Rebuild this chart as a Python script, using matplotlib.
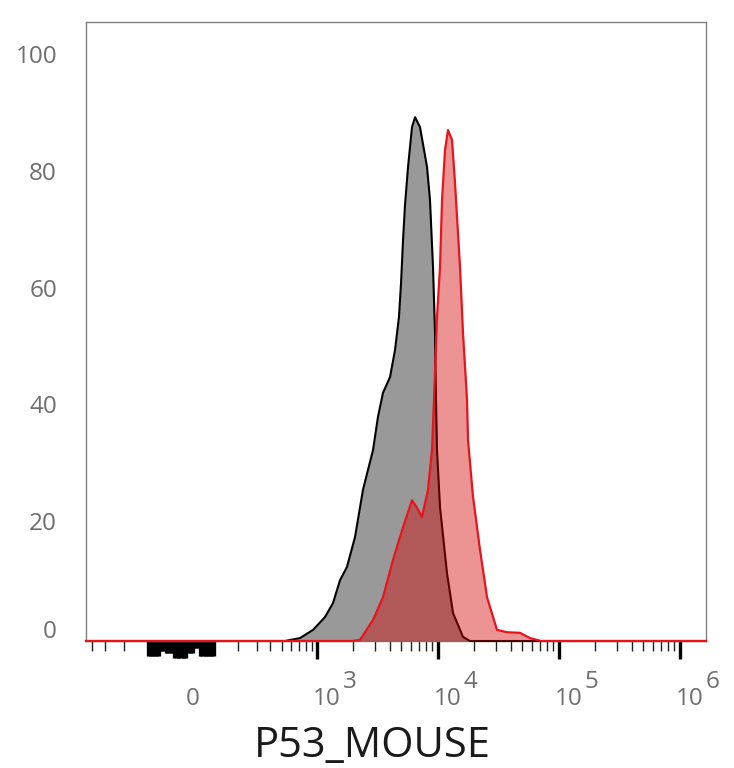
import numpy as np
import matplotlib
matplotlib.use("Agg")
import matplotlib.pyplot as plt
from matplotlib.transforms import blended_transform_factory, offset_copy

# intensity values (biexponential axis) and % of max for each histogram
black_x = [536, 719, 925, 1165, 1358, 1552, 1774, 2067, 2407, 2914, 3204, 3524,
           4029, 4429, 4778, 4968, 5163, 5360, 5677, 6123, 6486, 7127, 8146,
           8622, 9131, 9485, 9667, 9853, 10434, 11921, 13364, 16157, 18458]
black_y = [0, 0.5, 1.9, 4.1, 6.5, 10.4, 12.7, 17.8, 25.9, 32.7, 38.4, 42.5,
           45.2, 49.8, 55.5, 61.3, 68.7, 74.7, 81.2, 88.0, 89.7, 88.0, 81.2,
           75.5, 64.0, 52.7, 41.3, 32.7, 22.9, 11.6, 4.8, 0.7, 0]

red_x = [1953, 2274, 2914, 3524, 4265, 5163, 6123, 6734, 7406, 8299, 8958,
         9306, 9853, 10434, 10840, 11477, 12148, 13112, 13877, 15265, 16157,
         17440, 17772, 19546, 22336, 25519, 30860, 37342, 47813, 57855, 71350]
red_y = [0, 0.2, 3.6, 7.5, 13.9, 19.5, 24.1, 22.8, 21.2, 25.9, 32.7,
         41.3, 55.5, 64.0, 75.5, 84.1, 87.5, 85.8, 78.4, 64.0, 52.7,
         41.3, 34.4, 24.7, 15.6, 7.5, 1.9, 1.5, 1.4, 0.5, 0]

y_ticks = [0, 20, 40, 60, 80, 100]
decades = [3, 4, 5, 6]
xlabel = "P53_MOUSE"

# axis range
x_min, x_max = -448, 1.6465e6
y_min, y_max = 0, 106
W = 151  # linear width of the asinh display

plt.rcParams['font.family'] = ['Open Sans', 'DejaVu Sans']

fig = plt.figure(figsize=(7.34, 7.68), dpi=100)
ax = fig.add_axes([86 / 734, 127 / 768, 620 / 734, 619 / 768])

ax.set_xscale('function', functions=(lambda v: np.arcsinh(np.asarray(v) / W),
                                      lambda u: W * np.sinh(np.asarray(u))))
ax.set_xlim(x_min, x_max)
ax.set_ylim(y_min, y_max)


def padded(xs, ys):
    return np.concatenate([[x_min], xs, [x_max]]), np.concatenate([[0], ys, [0]])


bx, by = padded(black_x, black_y)
rx, ry = padded(red_x, red_y)

ax.fill_between(bx, by, 0, color='#999999', linewidth=0, zorder=2)
ax.plot(bx, by, color='black', linewidth=1.5, zorder=3, clip_on=False,
        solid_joinstyle='round')
ax.fill_between(rx, ry, 0, color='#d40000', alpha=0.42, linewidth=0, zorder=4)
ax.plot(rx, ry, color='#e8141c', linewidth=1.6, zorder=5, clip_on=False,
        solid_joinstyle='round')

# frame
for side in ['left', 'right', 'top', 'bottom']:
    ax.spines[side].set_color('#808080')
    ax.spines[side].set_linewidth(1.0)

# ticks
dense = list(range(-100, 101, 5))
majors = [10 ** d for d in decades]
minors = [-400, -300, -200] + list(range(200, 1000, 100))
for d in [3, 4, 5]:
    minors += [m * 10 ** d for m in range(2, 10)]

ax.set_xticks(dense + majors)
ax.set_xticks(minors, minor=True)
ax.tick_params(axis='x', which='major', direction='out', length=13, width=2.4,
               color='black', labelbottom=False)
ax.tick_params(axis='x', which='minor', direction='out', length=7, width=1.0,
               color='#222222')
ax.set_yticks([])


# ragged bottom of the dense tick cluster around zero
def cluster_len(v):
    if v < -60:
        return 15
    if v < -45:
        return 10
    if v < -20:
        return 12
    if v < 17:
        return 17
    if v < 38:
        return 12
    if v < 53:
        return 7
    return 15


for tk, v in zip(ax.xaxis.get_major_ticks(), dense + majors):
    if v in dense:
        tk.tick1line.set_markersize(cluster_len(v) * 0.72)

# tick labels drawn as text
xtrans = blended_transform_factory(ax.transData, ax.transAxes)
lab_col = '#6e6e6e'
fs = 17.5
for d in decades:
    t = offset_copy(xtrans, fig=fig, x=-4, y=-64, units='dots')
    ax.text(10 ** d, 0, "10", transform=t, ha='left', va='baseline',
            fontsize=fs, color=lab_col)
    t2 = offset_copy(xtrans, fig=fig, x=26, y=-47, units='dots')
    ax.text(10 ** d, 0, str(d), transform=t2, ha='left', va='baseline',
            fontsize=fs, color=lab_col)
t0 = offset_copy(xtrans, fig=fig, x=12, y=-64, units='dots')
ax.text(0, 0, "0", transform=t0, ha='center', va='baseline',
        fontsize=fs, color=lab_col)

ytrans = blended_transform_factory(ax.transAxes, ax.transData)
for v in y_ticks:
    dy = 9 if v == 0 else 0
    t = offset_copy(ytrans, fig=fig, x=-29, y=dy, units='dots')
    ax.text(0, v, str(v), transform=t, ha='right', va='center',
            fontsize=fs, color=lab_col)

fig.text(372 / 734, 11 / 768, xlabel, ha='center', va='baseline',
         fontsize=30, color='#1a1a1a')

fig.savefig("out.png", dpi=100)
